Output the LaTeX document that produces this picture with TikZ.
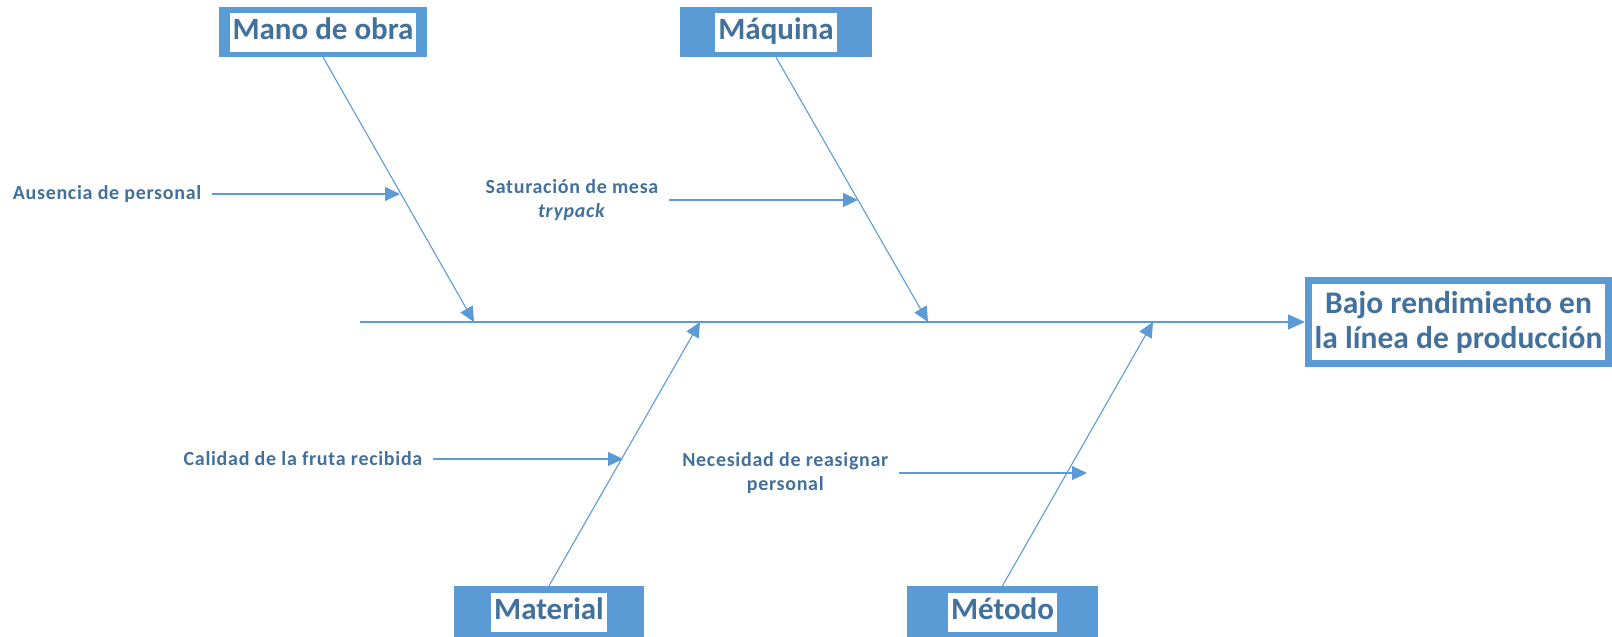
\documentclass[tikz,border=0pt]{standalone}
\usepackage{fontspec}
\setmainfont{Carlito}
\newfontfamily\causefont[LetterSpace=3.5]{Carlito}
\usetikzlibrary{arrows.meta}
\definecolor{boneblue}{HTML}{5B9BD5}
\definecolor{inkblue}{HTML}{41719C}
\tikzset{
  bone/.style={draw=boneblue, line width=1.1pt, -{Triangle[length=15pt,width=14pt]}},
  catbox/.style={fill=boneblue, draw=none, minimum height=50pt, inner sep=0pt},
  cattext/.style={fill=white, text=inkblue, font=\fontsize{31}{35}\selectfont\bfseries,
                  inner xsep=3pt, inner ysep=0pt, minimum height=39pt, text height=22pt, text depth=7pt},
  cause/.style={text=inkblue, font=\causefont\fontsize{20}{24}\selectfont\bfseries, align=center,
                inner xsep=10.5pt, inner ysep=2pt, anchor=east},
  effectbox/.style={draw=boneblue, line width=7pt, fill=white, minimum width=300pt,
                    minimum height=83pt, inner sep=0pt, text=inkblue, align=center,
                    font=\fontsize{31.5}{35}\selectfont\bfseries}
}
\begin{document}
\begin{tikzpicture}[x=1pt,y=-1pt]
  \useasboundingbox (0,0) rectangle (1612,637);

  % effect
  \node[effectbox] (effect) at (1458.5,322) {Bajo rendimiento en\\la línea de producción};

  % spine
  \coordinate (tail) at (360,322);
  \draw[bone, -{Triangle[length=17pt,width=15pt]}] (tail) -- (effect.west);

  % category boxes
  \node[catbox, minimum width=208pt, minimum height=50pt] (mano) at (323,32) {};
  \node[cattext] (manot) at (mano) {Mano de obra};
  \node[catbox, minimum width=192pt, minimum height=50pt] (maq) at (776,32) {};
  \node[cattext] (maqt) at (maq) {Máquina};
  \node[catbox, minimum width=190pt, minimum height=51pt] (mat) at (549,611.5) {};
  \node[cattext] (matt) at (549,612) {Material};
  \node[catbox, minimum width=191pt, minimum height=51pt] (met) at (1002.5,611.5) {};
  \node[cattext] (mett) at (1002.5,612) {Método};

  % bone ends on the spine
  \coordinate (jmano) at (474,322);
  \coordinate (jmaq) at (928,322);
  \coordinate (jmat) at (700,322);
  \coordinate (jmet) at (1153,322);

  \draw[bone] (mano.south) -- (jmano);
  \draw[bone] (maq.south) -- (jmaq);
  \draw[bone] (mat.north) -- (jmat);
  \draw[bone] (met.north) -- (jmet);

  % causes
  \coordinate (tausencia) at (400,194);
  \coordinate (tsaturacion) at (858,200);
  \coordinate (tcalidad) at (623,459);
  \coordinate (tnecesidad) at (1087,473);

  \node[cause] (ausencia) at (212,194) {Ausencia de personal};
  \node[cause] (saturacion) at (669,200) {Saturación de mesa\\\textit{trypack}};
  \node[cause] (calidad) at (433,459) {Calidad de la fruta recibida};
  \node[cause] (necesidad) at (899,473) {Necesidad de reasignar\\personal};

  \draw[bone] (ausencia.east) -- (tausencia);
  \draw[bone] (saturacion.east) -- (tsaturacion);
  \draw[bone] (calidad.east) -- (tcalidad);
  \draw[bone] (necesidad.east) -- (tnecesidad);
\end{tikzpicture}
\end{document}
